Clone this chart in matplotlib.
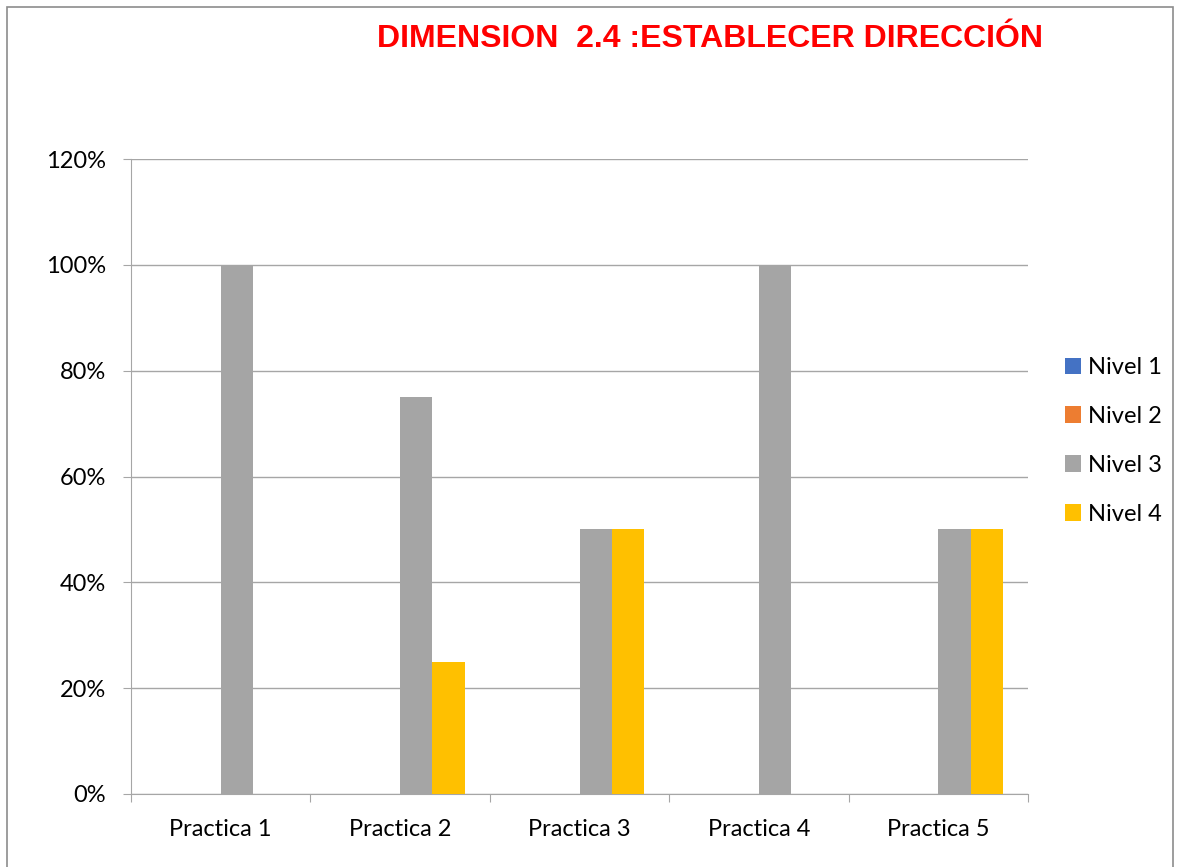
import numpy as np
import matplotlib.pyplot as plt
from matplotlib.patches import Rectangle

categories = ["Practica 1", "Practica 2", "Practica 3", "Practica 4", "Practica 5"]
niveles = ["Nivel 1", "Nivel 2", "Nivel 3", "Nivel 4"]
nivel_1 = [0, 0, 0, 0, 0]
nivel_2 = [0, 0, 0, 0, 0]
nivel_3 = [1.00, 0.75, 0.50, 1.00, 0.50]
nivel_4 = [0, 0.25, 0.50, 0, 0.50]
colors = ["#4472c4", "#ed7d31", "#a5a5a5", "#ffc000"]

plt.rcParams['font.family'] = ['Lato', 'DejaVu Sans']

fig = plt.figure(figsize=(11.81, 8.67), dpi=100)
ax = fig.add_axes([131 / 1181, 1 - 794 / 867, (1028 - 131) / 1181, (794 - 159) / 867])

x = np.arange(len(categories))
w = 0.18
series = [nivel_1, nivel_2, nivel_3, nivel_4]
for i, (vals, name, c) in enumerate(zip(series, niveles, colors)):
    ax.bar(x + (i - 1.5) * w, vals, w, color=c, label=name, zorder=3)

ax.set_xlim(-0.5, 4.5)
ax.set_ylim(0, 1.2)
ax.set_yticks(np.arange(0, 1.21, 0.2))
ax.set_yticklabels([f"{int(round(v * 100))}%" for v in np.arange(0, 1.21, 0.2)], fontsize=17)
ax.yaxis.grid(True, color="#a6a6a6", linewidth=1, zorder=0)
ax.set_xticks(np.arange(-0.5, 5, 1))
ax.set_xticklabels([])
ax.set_xticks(x, minor=True)
ax.set_xticklabels(categories, minor=True, fontsize=17)
ax.tick_params(axis="x", which="minor", length=0, pad=18)
ax.tick_params(axis="x", which="major", length=5.8, color="#a6a6a6")
ax.tick_params(axis="y", length=5.8, color="#a6a6a6", pad=12.2)
for s in ["top", "right"]:
    ax.spines[s].set_visible(False)
for s in ["left", "bottom"]:
    ax.spines[s].set_color("#a6a6a6")

fig.text(710 / 1181, 1 - 39 / 867, "DIMENSION  2.4 :ESTABLECER DIRECCIÓN",
         color="red", fontsize=23, fontweight="bold", family="Liberation Sans",
         ha="center", va="center")

ax.legend(loc="center left", bbox_to_anchor=(1.041, 0.556), frameon=False, fontsize=17,
          handlelength=0.7, handleheight=0.7, labelspacing=1.18, handletextpad=0.3,
          borderpad=0, borderaxespad=0)

fig.patches.append(Rectangle((7 / 1181, -0.01), (1173 - 7) / 1181, 1 - 7 / 867 + 0.01,
                             transform=fig.transFigure, fill=False, edgecolor="#8c8c8c", linewidth=1.2))

fig.savefig("out.png", dpi=100)
